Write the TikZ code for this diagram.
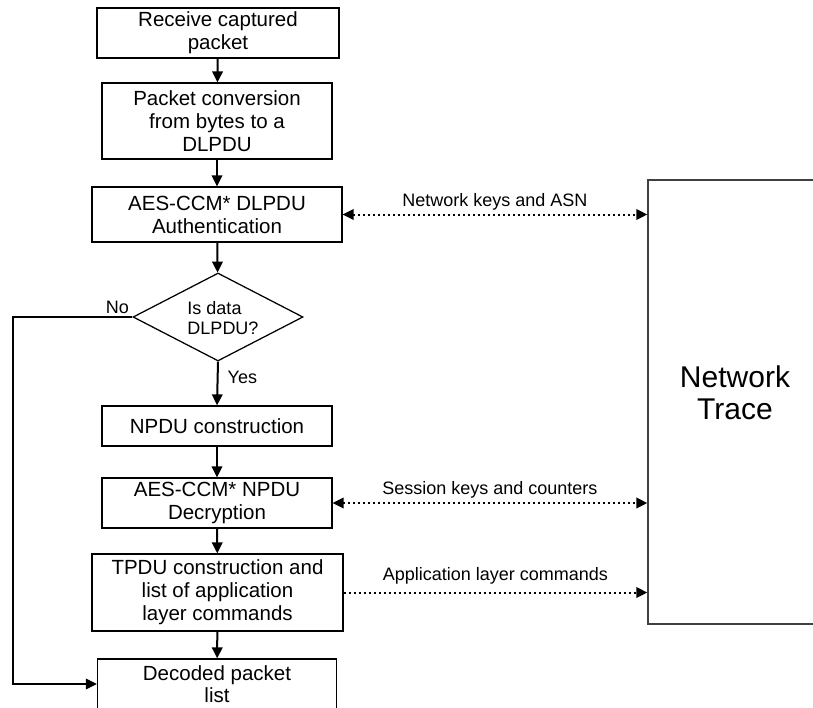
\documentclass[tikz,border=0pt]{standalone}
\usepackage{fontspec}
\setmainfont{Liberation Sans}
\usetikzlibrary{arrows.meta,shapes.geometric}
\tikzset{
  tri/.tip={Triangle[length=11pt,width=10.5pt]},
  box/.style={draw, line width=1.25pt, align=center, inner sep=0pt,
    font=\fontsize{20.5}{23}\selectfont},
  arr/.style={line width=2pt, -tri},
  dotline/.style={line width=2pt, dash pattern=on 2pt off 3pt},
  lbl/.style={inner sep=0pt, font=\fontsize{18}{20.7}\selectfont},
}
\begin{document}
\begin{tikzpicture}[x=1pt,y=-1pt]
\useasboundingbox (0,0) rectangle (813,707);
\clip (0,0) rectangle (813,707);

\node[box, minimum width=242pt, minimum height=50pt] (b1) at (218,33) {Receive captured\\packet};
\node[box, minimum width=230pt, minimum height=76pt] (b2) at (217,121) {Packet conversion\\from bytes to a\\DLPDU};
\node[box, minimum width=250pt, minimum height=55pt] (b3) at (217,214.5) {AES-CCM* DLPDU\\Authentication};
\node[draw, diamond, line width=1.25pt, inner sep=0pt, minimum width=170pt, minimum height=88pt] (d) at (218,317) {};
\node[lbl, align=left] (dt) at (223,318) {Is data\\DLPDU?};
\node[box, minimum width=230pt, minimum height=40pt] (b4) at (217,426) {NPDU construction};
\node[box, minimum width=230pt, minimum height=50pt] (b5) at (217,503) {AES-CCM* NPDU\\Decryption};
\node[box, minimum width=251pt, minimum height=77pt] (b6) at (217.5,592.5) {TPDU construction and\\list of application\\layer commands};
\node[box, minimum width=239pt, minimum height=56pt] (b7) at (217,687) {};
\node[inner sep=0pt, align=center, font=\fontsize{20.5}{22}\selectfont] (b7t) at (217,684.5) {Decoded packet\\list};

\node[draw=black!75, line width=1.4pt, minimum width=174pt, minimum height=444pt, inner sep=0pt] (nt) at (735,402) {};
\node[inner sep=0pt, align=center, font=\fontsize{30}{32}\selectfont] (ntt) at (735,393) {Network\\Trace};

\coordinate (lft) at (13,317);

\draw[arr] (b1) -- (b2);
\draw[arr] (b2) -- (b3);
\draw[arr] (b3) -- (d);
\draw[arr] (d.south) -- node[pos=0.35, anchor=west, xshift=9pt, lbl] {Yes} (b4.north);
\draw[arr] (b4) -- (b5);
\draw[arr] (b5) -- (b6);
\draw[arr] (b6) -- (b7);
\draw[arr] (d.west) -- node[pos=0.125, above=2.5pt, lbl] {No} (lft) |- ([yshift=3pt]b7.west);

\draw[dotline, tri-tri] (b3.east) -- node[midway, above=3.5pt, lbl] {Network keys and ASN} (b3.east -| nt.west);
\draw[dotline, tri-tri] (b5.east) -- node[midway, above=3.5pt, lbl] {Session keys and counters} (b5.east -| nt.west);
\draw[dotline, -tri] (b6.east) -- node[midway, above=7.5pt, lbl] {Application layer commands} (b6.east -| nt.west);
\end{tikzpicture}
\end{document}
